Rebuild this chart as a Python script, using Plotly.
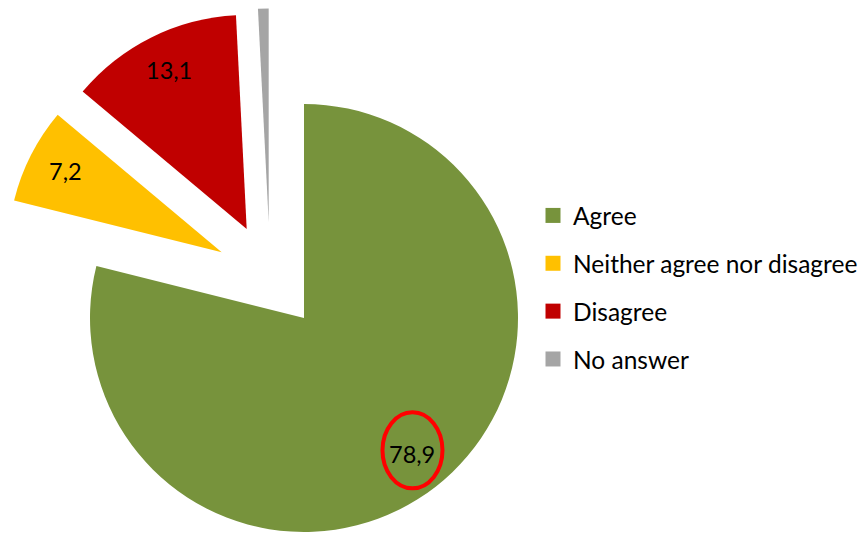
import math
import plotly.graph_objects as go

# Survey answers (percent)
labels = ["Agree", "Neither agree nor disagree", "Disagree", "No answer"]
values = [78.9, 7.2, 13.1, 0.8]
colors = ["#77933C", "#FFC000", "#C00000", "#A5A5A5"]
show_value = [True, True, True, False]

# Canvas and pie geometry (pixels)
W, H = 865, 533
CX, CY, R = 304, 318, 214
# Offset of each exploded slice from the pie centre
offsets = [(0, 0), (-82.3, -65.7), (-57.3, -89.0), (-35.3, -95.5)]
LABEL_RADIUS = 0.82

FONT = "Lato, 'Open Sans', sans-serif"
TRANSPARENT = "rgba(0,0,0,0)"


def to_paper(px, py):
    return px / W, 1 - py / H


fig = go.Figure()

total = sum(values)
start = 0.0
annotations = []
shapes = []
for i, (lab, val) in enumerate(zip(labels, values)):
    dx, dy = offsets[i]
    cx, cy = CX + dx, CY + dy
    slice_colors = [c if j == i else TRANSPARENT for j, c in enumerate(colors)]
    fig.add_trace(go.Pie(
        labels=labels,
        values=values,
        sort=False,
        direction="clockwise",
        rotation=0,
        marker=dict(colors=slice_colors, line=dict(width=0)),
        textinfo="none",
        hoverinfo="skip",
        showlegend=False,
        domain=dict(
            x=[(cx - R) / W, (cx + R) / W],
            y=[1 - (cy + R) / H, 1 - (cy - R) / H],
        ),
    ))

    # value label along the slice's mid angle
    mid = (start + val / 2) / total * 2 * math.pi
    lx = cx + LABEL_RADIUS * R * math.sin(mid)
    ly = cy - LABEL_RADIUS * R * math.cos(mid)
    if show_value[i]:
        x, y = to_paper(lx, ly)
        annotations.append(dict(
            x=x, y=y, xref="paper", yref="paper",
            text=f"{val:.1f}".replace(".", ","),
            showarrow=False,
            font=dict(family=FONT, size=23.5, color="#000000"),
            xanchor="center", yanchor="middle",
            yshift=2,
        ))
        if i == 0:
            # red ring highlighting the main value
            ex, ey = lx + 0.5, ly - 6.0
            x0, y0 = to_paper(ex - 30, ey + 38)
            x1, y1 = to_paper(ex + 30, ey - 38)
            shapes.append(dict(type="circle", xref="paper", yref="paper",
                               x0=x0, y0=y0, x1=x1, y1=y1,
                               line=dict(color="#FF0000", width=4),
                               fillcolor=TRANSPARENT))
    start += val

# Legend entries
for i, (lab, col) in enumerate(zip(labels, colors)):
    fig.add_trace(go.Scatter(
        x=[None], y=[None], mode="markers", name=lab,
        legendgroup=f"g{i}",
        marker=dict(symbol="square", size=15, color=col),
        hoverinfo="skip",
    ))

fig.update_layout(
    width=W, height=H,
    margin=dict(l=0, r=0, t=0, b=0),
    paper_bgcolor="white",
    plot_bgcolor="white",
    xaxis=dict(visible=False),
    yaxis=dict(visible=False),
    showlegend=True,
    legend=dict(
        x=533 / W, y=1 - 193 / H, xanchor="left", yanchor="top",
        traceorder="grouped", tracegroupgap=13,
        font=dict(family=FONT, size=24.5, color="#000000"),
        bgcolor=TRANSPARENT,
    ),
    annotations=annotations,
    shapes=shapes,
)

fig.write_html("out.html")
